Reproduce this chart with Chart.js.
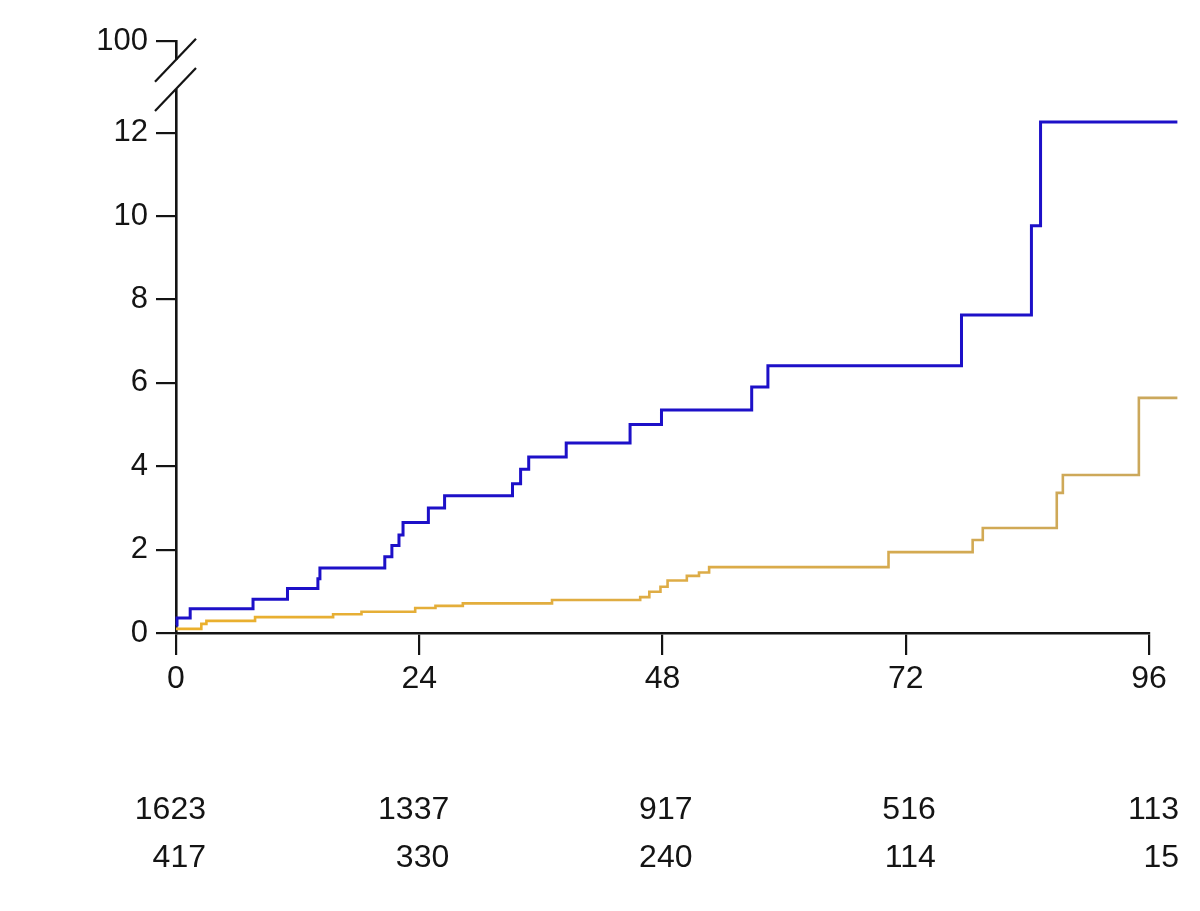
<!DOCTYPE html>
<html>
<head>
<meta charset="utf-8">
<script src="https://cdn.jsdelivr.net/npm/chart.js@4.4.1/dist/chart.umd.min.js"></script>
<style>
  html, body { margin: 0; padding: 0; background: #fff; }
  #wrap { position: relative; width: 1200px; height: 911px; }
</style>
</head>
<body>
<div id="wrap"><canvas id="kmChart" width="1200" height="911"></canvas></div>
<script>
// months since start, cumulative incidence (%) right after each step
var blueTimes = [0, 0.1, 1.4, 7.6, 11.0, 14.0, 14.2, 20.6, 21.3, 22.0, 22.4, 24.9, 26.5, 33.2, 34.0, 34.8, 38.5, 44.8, 47.9, 56.8, 58.4, 77.5, 84.4, 85.3, 98.8];
var blueValues = [0.19, 0.36, 0.58, 0.81, 1.07, 1.30, 1.56, 1.83, 2.10, 2.35, 2.65, 3.00, 3.29, 3.58, 3.93, 4.22, 4.56, 5.00, 5.35, 5.90, 6.41, 7.63, 9.77, 12.26, 12.26];

var orangeTimes = [0, 2.5, 3.0, 7.8, 15.5, 18.3, 23.6, 25.6, 28.3, 37.1, 45.8, 46.7, 47.8, 48.5, 50.4, 51.6, 52.6, 70.3, 78.6, 79.6, 86.9, 87.5, 95.0, 98.8];
var orangeValues = [0.10, 0.22, 0.29, 0.38, 0.45, 0.51, 0.60, 0.65, 0.71, 0.79, 0.86, 0.99, 1.11, 1.26, 1.37, 1.45, 1.58, 1.94, 2.23, 2.52, 3.36, 3.79, 5.64, 5.64];

var xTicks = [0, 24, 48, 72, 96];
var yTicks = [0, 2, 4, 6, 8, 10, 12, 14.2];   // 14.2 stands for the "100" tick above the break
var riskTimes = [0, 24, 48, 72, 96];
var riskBlue = [1623, 1337, 917, 516, 113];
var riskOrange = [417, 330, 240, 114, 15];

var fontFam = "'Liberation Sans Narrow', 'Liberation Sans', Arial, sans-serif";
var ink = "#141414";

function toPoints(xs, ys) {
  return xs.map(function (t, i) { return { x: t, y: ys[i] }; });
}

// orange fades from yellow-orange to tan like the scan
function orangeStroke(context) {
  var area = context.chart.chartArea;
  if (!area) return "#dcad4a";
  var g = context.chart.ctx.createLinearGradient(area.left, 0, area.right, 0);
  g.addColorStop(0, "#ebb02c");
  g.addColorStop(0.5, "#deac45");
  g.addColorStop(1, "#cba85c");
  return g;
}

// y axis break + number-at-risk rows
var extras = {
  id: "extras",
  afterDraw: function (chart) {
    var ctx = chart.ctx;
    var y = chart.scales.y, x = chart.scales.x;
    var x0 = chart.chartArea.left;
    var yU = y.getPixelForValue(13.75), yL = y.getPixelForValue(13.05);
    ctx.save();
    ctx.fillStyle = "#fff";
    ctx.fillRect(x0 - 3, yU, 6, yL - yU);
    ctx.strokeStyle = ink;
    ctx.lineWidth = 2.2;
    [yU, yL].forEach(function (yc) {
      ctx.beginPath();
      ctx.moveTo(x0 - 21, yc + 22);
      ctx.lineTo(x0 + 20, yc - 21);
      ctx.stroke();
    });

    ctx.fillStyle = ink;
    ctx.font = "32px " + fontFam;
    ctx.textAlign = "right";
    ctx.textBaseline = "middle";
    riskTimes.forEach(function (t, i) {
      var px = x.getPixelForValue(t) + 30;
      ctx.fillText(String(riskBlue[i]), px, 810);
      ctx.fillText(String(riskOrange[i]), px, 858);
    });
    ctx.restore();
  }
};

var ctx1 = document.getElementById("kmChart").getContext("2d");
new Chart(ctx1, {
  type: "line",
  data: {
    datasets: [{
        label: "Blue",
        data: toPoints(blueTimes, blueValues),
        stepped: "before",
        borderColor: "#1d10c8",
        borderWidth: 3,
        pointRadius: 0,
        fill: false,
        clip: false,
        order: 1
      }, {
        label: "Orange",
        data: toPoints(orangeTimes, orangeValues),
        stepped: "before",
        borderColor: orangeStroke,
        borderWidth: 2.6,
        pointRadius: 0,
        fill: false,
        clip: false,
        order: 2
      }]
  },
  options: {
    responsive: false,
    animation: false,
    layout: { padding: { top: 41, right: 51, left: 0, bottom: 0 } },
    plugins: {
      legend: { display: false },
      tooltip: { enabled: false }
    },
    scales: {
      x: {
        type: "linear",
        min: 0,
        max: 96,
        afterBuildTicks: function (scale) {
          scale.ticks = xTicks.map(function (v) { return { value: v }; });
        },
        afterFit: function (scale) { scale.height = 911 - 633; },
        grid: {
          display: true,
          drawOnChartArea: false,
          drawTicks: true,
          tickLength: 22,
          color: ink,
          lineWidth: 2.2
        },
        border: { display: true, color: ink, width: 2.6 },
        ticks: {
          color: ink,
          padding: 5,
          maxRotation: 0,
          font: { size: 32, family: fontFam }
        }
      },
      y: {
        type: "linear",
        min: 0,
        max: 14.2,
        afterBuildTicks: function (scale) {
          scale.ticks = yTicks.map(function (v) { return { value: v }; });
        },
        afterFit: function (scale) { scale.width = 176; },
        grid: {
          display: true,
          drawOnChartArea: false,
          drawTicks: true,
          tickLength: 20,
          color: ink,
          lineWidth: 2.2
        },
        border: { display: true, color: ink, width: 2.6 },
        ticks: {
          color: ink,
          padding: 8,
          callback: function (value) { return value > 13 ? "100" : String(value); },
          font: { size: 31, family: fontFam }
        }
      }
    }
  },
  plugins: [extras]
});
</script>
</body>
</html>
